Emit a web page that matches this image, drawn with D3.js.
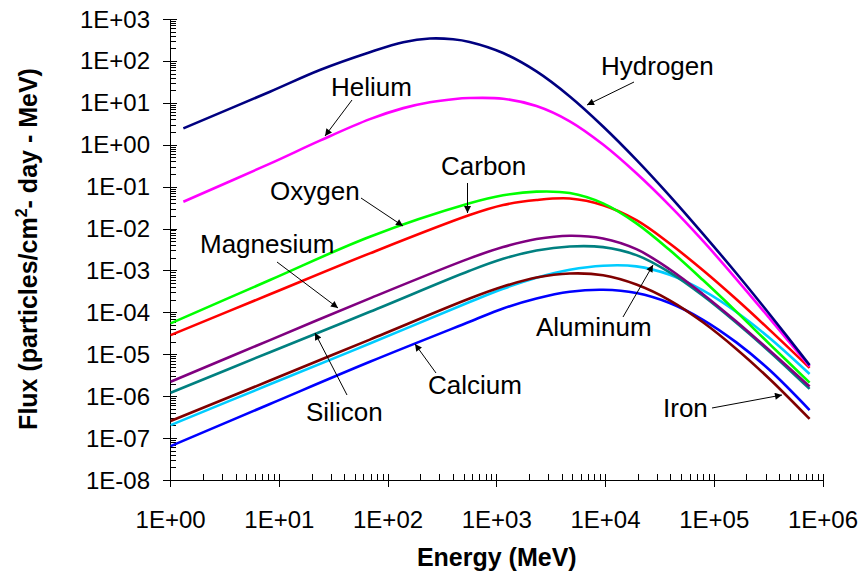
<!DOCTYPE html>
<html><head><meta charset="utf-8">
<script src="https://cdn.jsdelivr.net/npm/d3@7"></script>
<style>
body{margin:0;background:#fff}
svg{display:block}
text{font-family:"Liberation Sans",Arial,Helvetica,sans-serif;fill:#000}
</style>
</head><body>
<svg id="chart" width="864" height="579"></svg>
<script>
// ---------- data (Energy in MeV, Flux in particles/cm2-day-MeV) ----------
const energyLight = [1.31, 8.2, 23.6, 68, 138, 242, 396, 562, 1143, 2317, 4690, 9490, 19230, 38900, 78700, 159600, 322800, 753000];
const energyHeavy = [1, 8.2, 68, 562, 1143, 2317, 4690, 9490, 19230, 38900, 78700, 159600, 322800, 753000];

const hydrogen = [2.46, 18.4, 60.6, 161, 279, 342, 328, 283, 154, 56.2, 14.2, 2.73, 0.436, 0.0603, 7.47e-3, 8.57e-4, 9.01e-5, 5.52e-6];
const helium   = [0.0436, 0.354, 1.25, 4.08, 7.47, 10.3, 12.2, 13.0, 12.5, 8.39, 3.62, 1.01, 0.208, 0.0352, 5.06e-3, 6.23e-4, 7.19e-5, 5.14e-6];

const oxygen    = [5.46e-5, 5.90e-4, 6.37e-3, 3.99e-2, 6.20e-2, 7.60e-2, 7.04e-2, 3.99e-2, 1.33e-2, 3.07e-3, 5.90e-4, 1.04e-4, 1.75e-5, 2.11e-6];
const carbon    = [2.87e-5, 2.70e-4, 2.56e-3, 2.10e-2, 3.64e-2, 4.79e-2, 5.20e-2, 3.60e-2, 1.58e-2, 4.39e-3, 1.01e-3, 2.05e-4, 3.82e-5, 4.74e-6];
const magnesium = [2.21e-6, 2.18e-5, 2.16e-4, 1.94e-3, 3.62e-3, 5.62e-3, 6.73e-3, 5.80e-3, 3.22e-3, 1.07e-3, 2.72e-4, 6.06e-5, 1.23e-5, 1.70e-6];
const silicon   = [1.21e-6, 1.12e-5, 1.03e-4, 9.83e-4, 1.90e-3, 3.00e-3, 3.74e-3, 3.60e-3, 2.32e-3, 8.96e-4, 2.49e-4, 5.65e-5, 1.15e-5, 1.49e-6];
const iron      = [2.55e-7, 2.36e-6, 2.24e-5, 2.14e-4, 4.13e-4, 6.77e-4, 8.43e-4, 7.68e-4, 4.61e-4, 1.94e-4, 5.80e-5, 1.34e-5, 2.57e-6, 2.86e-7];
const aluminum  = [2.04e-7, 1.92e-6, 1.80e-5, 1.76e-4, 3.66e-4, 6.70e-4, 1.04e-3, 1.30e-3, 1.25e-3, 7.90e-4, 3.33e-4, 1.02e-4, 2.44e-5, 3.37e-6];
const calcium   = [6.44e-8, 6.52e-7, 6.62e-6, 5.97e-5, 1.24e-4, 2.15e-4, 3.10e-4, 3.46e-4, 2.89e-4, 1.67e-4, 6.66e-5, 1.92e-5, 4.20e-6, 4.66e-7];

const seriesNames  = ["Hydrogen","Helium","Oxygen","Carbon","Magnesium","Silicon","Iron","Aluminum","Calcium"];
const seriesColors = ["#000080","#FF00FF","#00FF00","#FF0000","#800080","#008080","#800000","#00CCFF","#0000FF"];

const xTickValues = [1e0,1e1,1e2,1e3,1e4,1e5,1e6];
const yTickValues = [1e-8,1e-7,1e-6,1e-5,1e-4,1e-3,1e-2,1e-1,1e0,1e1,1e2,1e3];

const xTitle = "Energy (MeV)";

// ---------- layout ----------
const svg = d3.select("#chart");
const X0 = 170.6, X1 = 823, Y0 = 480, Y1 = 19;
const x = d3.scaleLog().domain([1, 1e6]).range([X0, X1]);
const y = d3.scaleLog().domain([1e-8, 1e3]).range([Y0, Y1]);

const fmt = v => { const e = Math.round(Math.log10(v)); return "1E" + (e < 0 ? "-" : "+") + String(Math.abs(e)).padStart(2, "0"); };

// minor ticks
const minorX = [], minorY = [];
for (let e = 0; e < 6; e++) for (let m = 2; m <= 9; m++) minorX.push(m * Math.pow(10, e));
for (let e = -8; e < 3; e++) for (let m = 2; m <= 9; m++) minorY.push(m * Math.pow(10, e));

const axisG = svg.append("g").attr("stroke", "#000").attr("stroke-width", 1).attr("shape-rendering", "crispEdges");
axisG.append("line").attr("x1", X0).attr("x2", X0).attr("y1", Y1).attr("y2", Y0);
axisG.append("line").attr("x1", X0).attr("x2", X1).attr("y1", Y0).attr("y2", Y0);
axisG.selectAll(".ymaj").data(yTickValues).join("line")
  .attr("x1", X0 - 8).attr("x2", X0 + 6).attr("y1", d => Math.round(y(d)) + 0.5).attr("y2", d => Math.round(y(d)) + 0.5);
axisG.selectAll(".ymin").data(minorY).join("line")
  .attr("x1", X0).attr("x2", X0 + 5).attr("y1", d => Math.round(y(d)) + 0.5).attr("y2", d => Math.round(y(d)) + 0.5);
axisG.selectAll(".xmaj").data(xTickValues).join("line")
  .attr("x1", d => x(d)).attr("x2", d => x(d)).attr("y1", Y0 - 6).attr("y2", Y0 + 7);
axisG.selectAll(".xmin").data(minorX).join("line")
  .attr("x1", d => x(d)).attr("x2", d => x(d)).attr("y1", Y0 - 6).attr("y2", Y0);

// tick labels
svg.append("g").selectAll("text").data(yTickValues).join("text")
  .attr("x", 150).attr("y", d => y(d) + 8.5).attr("text-anchor", "end")
  .attr("font-size", 24).text(fmt);
svg.append("g").selectAll("text").data(xTickValues).join("text")
  .attr("x", d => x(d)).attr("y", 528).attr("text-anchor", "middle")
  .attr("font-size", 24).text(fmt);

// axis titles
svg.append("text").attr("x", (X0 + X1) / 2).attr("y", 566).attr("text-anchor", "middle")
  .attr("font-size", 25).attr("font-weight", "bold").text(xTitle);
const yt = svg.append("text").attr("transform", "translate(37,249) rotate(-90)")
  .attr("text-anchor", "middle").attr("font-size", 25).attr("font-weight", "bold");
yt.append("tspan").text("Flux (particles/cm");
yt.append("tspan").attr("font-size", 16).attr("dy", -10).text("2");
yt.append("tspan").attr("dy", 10).text("- day - MeV)");

// ---------- curves ----------
const allSeries = [hydrogen, helium, oxygen, carbon, magnesium, silicon, iron, aluminum, calcium];
const table = allSeries.map((vals, i) => {
  const en = vals.length === energyLight.length ? energyLight : energyHeavy;
  return { name: seriesNames[i], color: seriesColors[i], points: vals.map((v, j) => [en[j], v]) };
});
const line = d3.line().x(d => x(d[0])).y(d => y(d[1])).curve(d3.curveCatmullRom.alpha(0.5));
svg.append("g").selectAll("path").data(table.slice().reverse()).join("path")
  .attr("d", d => line(d.points)).attr("fill", "none")
  .attr("stroke", d => d.color).attr("stroke-width", 2.6).attr("stroke-linejoin", "round");

// ---------- annotations ----------
svg.append("defs").append("marker").attr("id", "arr").attr("viewBox", "0 0 10 10")
  .attr("refX", 10).attr("refY", 5).attr("markerWidth", 9).attr("markerHeight", 7)
  .attr("markerUnits", "userSpaceOnUse").attr("orient", "auto")
  .append("path").attr("d", "M0,0 L10,5 L0,10 Z").attr("fill", "#000");

const labels = [
  { t: "Hydrogen",  tx: 601, ty: 75,  a: [634, 82, 587, 105] },
  { t: "Helium",    tx: 331, ty: 96,  a: [352, 100, 325, 136] },
  { t: "Carbon",    tx: 441, ty: 175, a: [467.5, 183, 467.5, 213] },
  { t: "Oxygen",    tx: 270, ty: 200, a: [361, 198, 403, 226] },
  { t: "Magnesium", tx: 200, ty: 253, a: [277, 262, 338, 308] },
  { t: "Silicon",   tx: 306, ty: 421, a: [347, 395, 315, 333] },
  { t: "Calcium",   tx: 428, ty: 394, a: [436, 373, 415, 344] },
  { t: "Aluminum",  tx: 536, ty: 336, a: [623, 317, 653, 265] },
  { t: "Iron",      tx: 663, ty: 417, a: [712, 408, 782, 395] }
];
const ann = svg.append("g");
ann.selectAll("line").data(labels).join("line")
  .attr("x1", d => d.a[0]).attr("y1", d => d.a[1]).attr("x2", d => d.a[2]).attr("y2", d => d.a[3])
  .attr("stroke", "#000").attr("stroke-width", 1).attr("marker-end", "url(#arr)");
ann.selectAll("text").data(labels).join("text")
  .attr("x", d => d.tx).attr("y", d => d.ty).attr("font-size", 26).text(d => d.t);
</script>
</body></html>
